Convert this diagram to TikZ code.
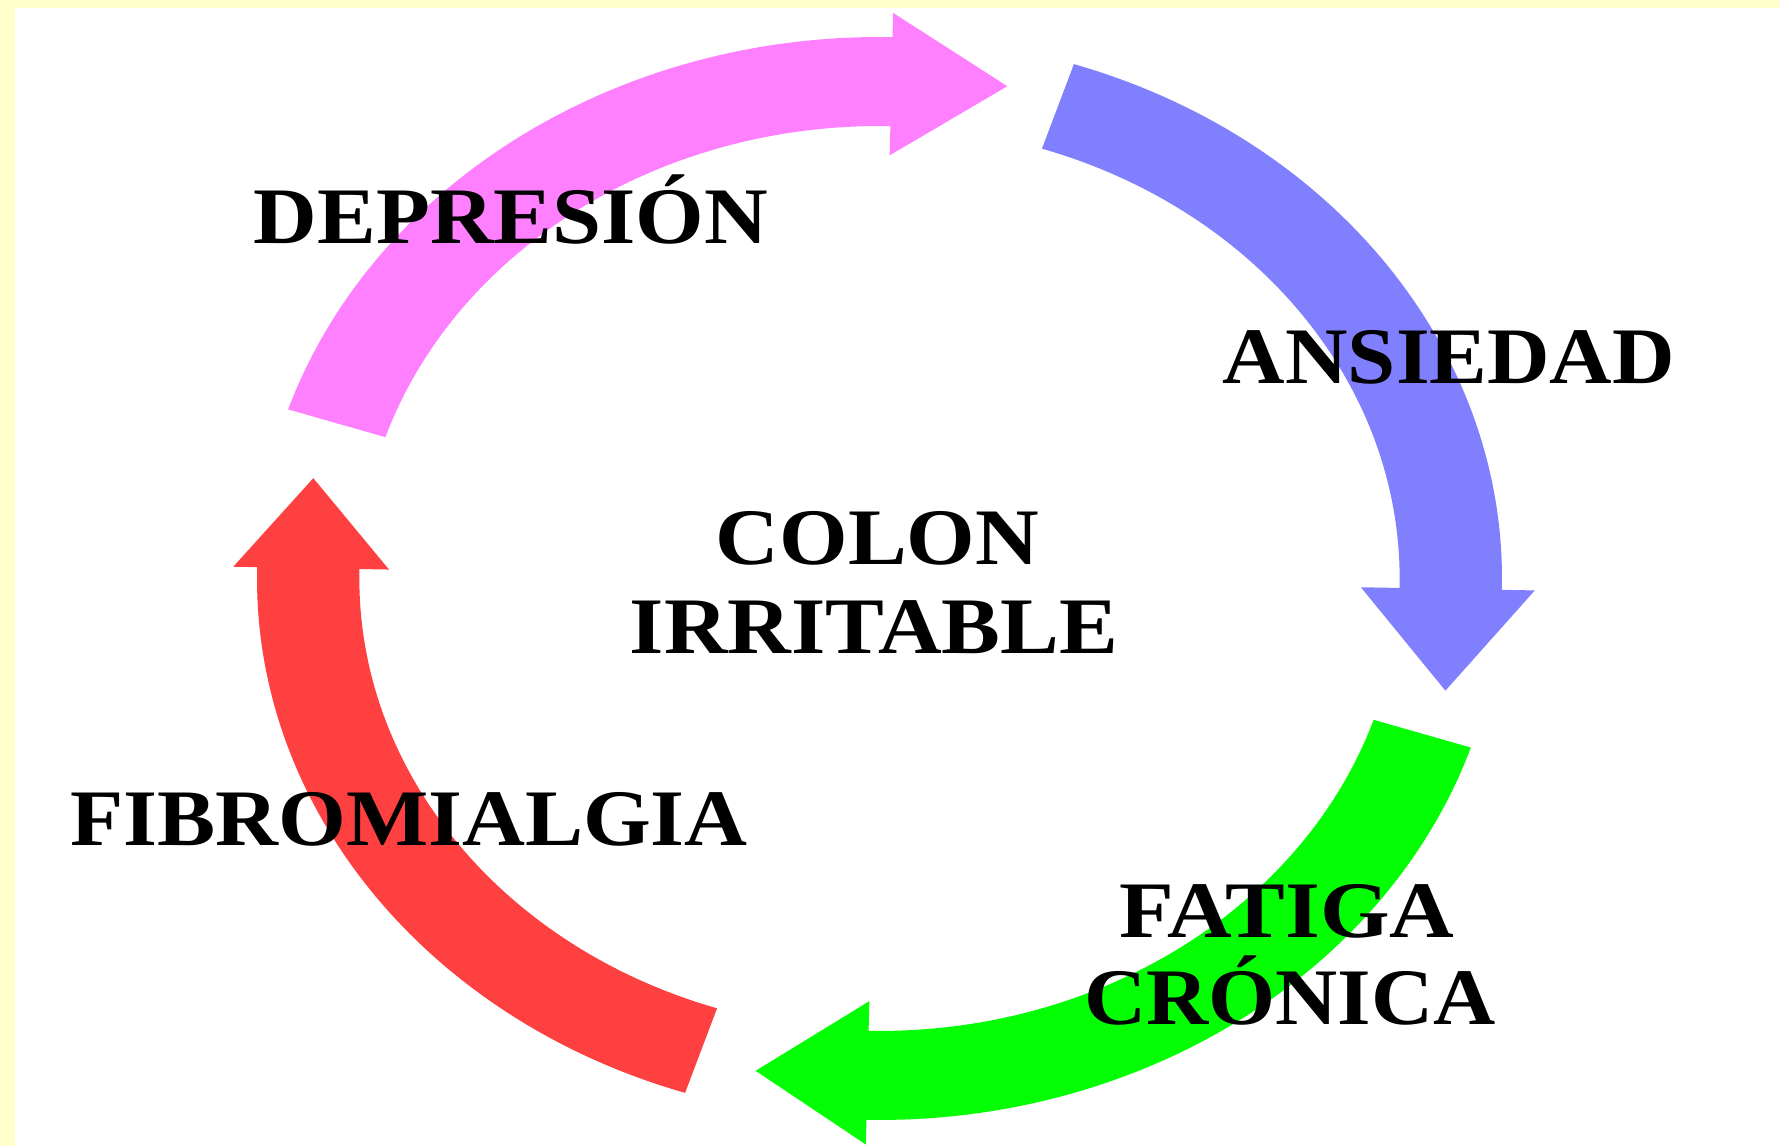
\documentclass[tikz,border=0pt]{standalone}
\usepackage{fontspec}
\setmainfont{Liberation Serif}

\definecolor{cream}{HTML}{FFFFCC}
\definecolor{cyclepink}{HTML}{FF80FF}
\definecolor{cycleblue}{HTML}{8080FF}
\definecolor{cyclegreen}{HTML}{04FF04}
\definecolor{cyclered}{HTML}{FF4040}

% One quarter of the cycle: a thick arc ending in a straight head.
% #1 colour, #2 rotation of the quarter,
% #3 head length, #4 half width of the head (unit-circle units)
\newcommand{\cyclearrow}[4]{%
  \begin{scope}[rotate=#2]
    \pgfmathsetmacro{\tipx}{cos(88.8)+#3*sin(88.8)}
    \pgfmathsetmacro{\tipy}{sin(88.8)-#3*cos(88.8)}
    \pgfmathsetmacro{\barbout}{1+#4}
    \pgfmathsetmacro{\barbin}{1-#4}
    \fill[#1] (161.8:1.095) arc[start angle=161.8, end angle=88.8, radius=1.095]
      -- (88.8:\barbout) -- (\tipx,\tipy) -- (88.8:\barbin) -- (88.8:0.915)
      arc[start angle=88.8, end angle=161.8, radius=0.915] -- cycle;
  \end{scope}}

\tikzset{
  lbl/.style={inner sep=0pt, anchor=base, text=black,
    font=\bfseries\fontsize{22.8}{24}\selectfont}
}

\begin{document}
\begin{tikzpicture}
  \useasboundingbox (0,0) rectangle (17.8,11.46);
  % page background with its cream frame on the top and left
  \fill[cream] (0,0) rectangle (17.8,11.46);
  \fill[white] (0.15,0) rectangle (17.8,11.38);

  % the four arrows of the cycle, drawn on an ellipse
  \begin{scope}[shift={(8.795,5.675)}, xscale=5.685, yscale=4.945]
    \cyclearrow{cyclepink}{0}{0.204}{0.144}
    \cyclearrow{cycleblue}{-90}{0.206}{0.153}
    \cyclearrow{cyclegreen}{-180}{0.197}{0.145}
    \cyclearrow{cyclered}{90}{0.182}{0.137}
  \end{scope}

  % labels
  \node[lbl] (depresion) at (5.11,9.02) {\scalebox{1.10}[1]{DEPRESIÓN}};
  \node[lbl] (ansiedad) at (14.49,7.623) {\scalebox{1.08}[1]{ANSIEDAD}};
  \node[lbl] (colon) at (8.775,5.81) {\scalebox{1.10}[1]{COLON}};
  \node[lbl] (irritable) at (8.74,4.92) {\scalebox{1.10}[1]{IRRITABLE}};
  \node[lbl] (fibro) at (4.09,3.003) {\scalebox{1.087}[1]{FIBROMIALGIA}};
  \node[lbl] (fatiga) at (12.87,2.083) {\scalebox{1.117}[1]{FATIGA}};
  \node[lbl] (cronica) at (12.90,1.21) {\scalebox{1.075}[1]{CRÓNICA}};
\end{tikzpicture}
\end{document}
